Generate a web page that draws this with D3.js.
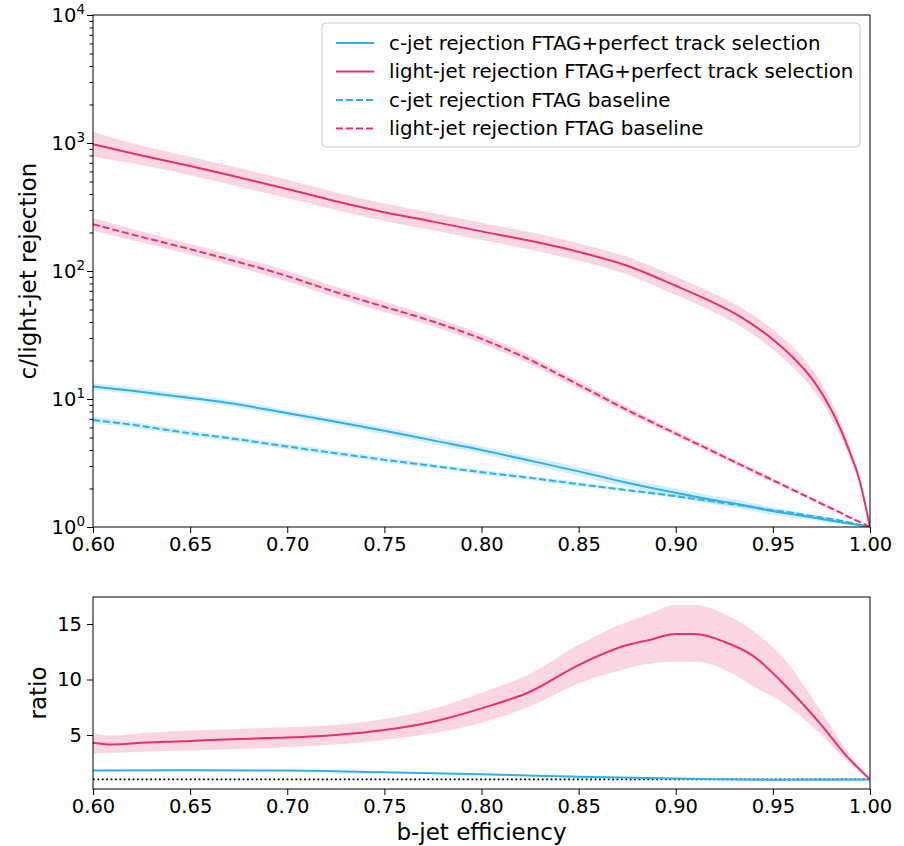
<!DOCTYPE html>
<html>
<head>
<meta charset="utf-8">
<script src="https://cdnjs.cloudflare.com/ajax/libs/d3/7.8.5/d3.min.js"></script>
<style>
  body { margin: 0; background: #fff; }
  svg { font-family: "DejaVu Sans", sans-serif; }
</style>
</head>
<body>
<svg id="chart" width="904" height="846"></svg>
<script>
// b-jet efficiency grid for the rejection curves
var eff = [0.60, 0.62, 0.65, 0.67, 0.70, 0.725, 0.75, 0.775, 0.80, 0.825, 0.85, 0.875,
           0.90, 0.917, 0.933, 0.95, 0.96, 0.97, 0.977, 0.985, 0.99, 0.994, 1.0];

// rejection values
var lightPerfect = [977, 832, 661, 562, 437, 351, 288, 243, 204, 172, 141, 110,
                    76.7, 58.9, 44.2, 29.2, 21.4, 14.5, 10, 5.75, 3.7, 2.5, 1.0];
var lightBase    = [232, 193, 148, 123, 91.2, 68.4, 52.5, 40.3, 29.5, 20.2, 12.9, 8.2,
                    5.37, 4.04, 3.08, 2.32, 1.96, 1.66, 1.47, 1.29, 1.18, 1.106, 1.0];
var cPerfect     = [12.5, 11.6, 10.2, 9.3, 7.75, 6.65, 5.65, 4.75, 4.0, 3.3, 2.72, 2.22,
                    1.85, 1.65, 1.5, 1.33, 1.26, 1.19, 1.14, 1.09, 1.06, 1.035, 1.0];
var cBase        = [6.85, 6.3, 5.4, 4.95, 4.25, 3.77, 3.35, 3.0, 2.68, 2.42, 2.16, 1.94,
                    1.74, 1.6, 1.48, 1.35, 1.29, 1.22, 1.175, 1.12, 1.08, 1.047, 1.0];

// relative half-widths of the uncertainty bands
var lightPerfectErr = [0.25, 0.2, 0.18, 0.18, 0.18, 0.17, 0.17, 0.17, 0.17, 0.17, 0.17, 0.17,
                       0.18, 0.18, 0.19, 0.2, 0.2, 0.19, 0.17, 0.14, 0.1, 0.07, 0];
var lightBaseErr    = [0.12, 0.11, 0.1, 0.1, 0.1, 0.1, 0.1, 0.09, 0.09, 0.08, 0.07, 0.06,
                       0.05, 0.05, 0.04, 0.04, 0.03, 0.03, 0.03, 0.02, 0.02, 0.01, 0];
var cPerfectErr     = [0.06, 0.06, 0.06, 0.06, 0.06, 0.06, 0.07, 0.07, 0.07, 0.08, 0.08, 0.08,
                       0.08, 0.08, 0.08, 0.07, 0.06, 0.05, 0.04, 0.03, 0.02, 0.01, 0];
var cBaseErr        = [0.06, 0.06, 0.05, 0.05, 0.05, 0.05, 0.05, 0.04, 0.04, 0.04, 0.04, 0.03,
                       0.03, 0.03, 0.03, 0.03, 0.02, 0.02, 0.02, 0.02, 0.01, 0.01, 0];

// ratio panel
var effRatio   = [0.60, 0.605, 0.61, 0.625, 0.65, 0.675, 0.70, 0.725, 0.75, 0.775, 0.80, 0.825,
                  0.85, 0.875, 0.885, 0.90, 0.91, 0.925, 0.94, 0.957, 0.975, 0.988, 1.0];
var ratioLight = [4.3, 4.2, 4.15, 4.3, 4.46, 4.65, 4.77, 5.0, 5.45, 6.2, 7.4, 8.9,
                  11.3, 13.1, 13.5, 14.1, 14.1, 13.4, 12.1, 9.35, 5.9, 3.1, 1.0];
var ratioLightLo = [3.3, 3.35, 3.4, 3.5, 3.6, 3.75, 3.9, 4.15, 4.55, 5.15, 6.1, 7.6,
                    9.65, 11.0, 11.4, 11.6, 11.6, 10.9, 9.4, 7.7, 5.0, 2.7, 1.0];
var ratioLightHi = [5.2, 5.0, 4.95, 5.15, 5.4, 5.55, 5.7, 5.9, 6.45, 7.35, 8.8, 10.5,
                    13.1, 15.2, 15.8, 16.7, 16.7, 15.9, 14.35, 11.6, 7.1, 3.6, 1.0];
var effRatioC  = [0.60, 0.65, 0.70, 0.75, 0.80, 0.85, 0.90, 0.95, 1.0];
var ratioC     = [1.8, 1.82, 1.8, 1.65, 1.47, 1.25, 1.08, 0.98, 1.0];

var xTicks = [0.60, 0.65, 0.70, 0.75, 0.80, 0.85, 0.90, 0.95, 1.00];
var yTopTicks = [1, 10, 100, 1000, 10000];
var yRatioTicks = [5, 10, 15];

var pink = '#e8306c';
var blue = '#2fb0e6';

var svg = d3.select('#chart');

// panel geometry
var left = 93, right = 870;
var topY0 = 15, topY1 = 527;
var botY0 = 597, botY1 = 789;

var x = d3.scaleLinear().domain([0.6, 1.0]).range([left, right]);
var yTop = d3.scaleLog().domain([1, 10000]).range([topY1, topY0]);
var yBot = d3.scaleLinear().domain([0.14, 17.43]).range([botY1, botY0]);

svg.append('clipPath').attr('id', 'clipTop')
    .append('rect').attr('x', left).attr('y', topY0).attr('width', right - left).attr('height', topY1 - topY0);
svg.append('clipPath').attr('id', 'clipBot')
    .append('rect').attr('x', left).attr('y', botY0).attr('width', right - left).attr('height', botY1 - botY0);

// ---------- top panel ----------
var gTop = svg.append('g').attr('clip-path', 'url(#clipTop)');

function addBand(vals, errs, color) {
    var pts = eff.map(function(e, i) { return [e, vals[i], errs[i]]; });
    var area = d3.area()
        .curve(d3.curveMonotoneX)
        .x(function(d) { return x(d[0]); })
        .y0(function(d) { return yTop(d[1] / (1 + d[2])); })
        .y1(function(d) { return yTop(d[1] * (1 + d[2])); });
    gTop.append('path').attr('d', area(pts))
        .attr('fill', color).attr('fill-opacity', 0.2).attr('stroke', 'none');
}

function addLine(vals, color, dashed) {
    var pts = eff.map(function(e, i) { return [e, vals[i]]; });
    var line = d3.line()
        .curve(d3.curveMonotoneX)
        .x(function(d) { return x(d[0]); })
        .y(function(d) { return yTop(d[1]); });
    gTop.append('path').attr('d', line(pts))
        .attr('fill', 'none').attr('stroke', color).attr('stroke-width', 2)
        .attr('stroke-dasharray', dashed ? '7,3' : null);
}

addBand(cPerfect, cPerfectErr, blue);
addBand(lightPerfect, lightPerfectErr, pink);
addBand(cBase, cBaseErr, blue);
addBand(lightBase, lightBaseErr, pink);
addLine(cPerfect, blue, false);
addLine(lightPerfect, pink, false);
addLine(cBase, blue, true);
addLine(lightBase, pink, true);

// top axes
var xAxisTop = d3.axisBottom(x).tickValues(xTicks).tickFormat(d3.format('.2f')).tickSize(6).tickPadding(4);
svg.append('g').attr('class', 'axis').attr('transform', 'translate(0,' + topY1 + ')').call(xAxisTop);

var minorTop = [];
for (var dec = 1; dec < 10000; dec *= 10) {
    for (var m = 2; m <= 9; m++) minorTop.push(dec * m);
}
var yAxisTopMinor = d3.axisLeft(yTop).tickValues(minorTop).tickSize(3.5).tickFormat('');
svg.append('g').attr('class', 'axis').attr('transform', 'translate(' + left + ',0)').call(yAxisTopMinor);
var yAxisTop = d3.axisLeft(yTop).tickValues(yTopTicks).tickSize(6).tickFormat('');
svg.append('g').attr('class', 'axis').attr('transform', 'translate(' + left + ',0)').call(yAxisTop);

// power-of-ten labels
yTopTicks.forEach(function(v) {
    var t = svg.append('text')
        .attr('x', left - 8).attr('y', yTop(v) + 7)
        .attr('text-anchor', 'end').attr('font-size', 19.5).attr('fill', '#000');
    t.append('tspan').text('10');
    t.append('tspan').attr('font-size', 13.5).attr('dy', -8).text(Math.round(Math.log10(v)));
});

svg.append('rect').attr('x', left).attr('y', topY0).attr('width', right - left).attr('height', topY1 - topY0)
    .attr('fill', 'none').attr('stroke', '#000').attr('stroke-width', 1);

svg.append('text')
    .attr('transform', 'translate(36,' + ((topY0 + topY1) / 2) + ') rotate(-90)')
    .attr('text-anchor', 'middle').attr('font-size', 23).text('c/light-jet rejection');

// legend
var legendItems = [
    { label: 'c-jet rejection FTAG+perfect track selection', color: blue, dashed: false },
    { label: 'light-jet rejection FTAG+perfect track selection', color: pink, dashed: false },
    { label: 'c-jet rejection FTAG baseline', color: blue, dashed: true },
    { label: 'light-jet rejection FTAG baseline', color: pink, dashed: true }
];
var lg = svg.append('g');
lg.append('rect').attr('x', 322).attr('y', 23).attr('width', 538).attr('height', 124)
    .attr('rx', 4).attr('fill', '#fff').attr('fill-opacity', 0.8)
    .attr('stroke', '#cccccc').attr('stroke-width', 1);
legendItems.forEach(function(d, i) {
    var yy = 43 + i * 28.5;
    lg.append('line').attr('x1', 336).attr('x2', 374).attr('y1', yy).attr('y2', yy)
        .attr('stroke', d.color).attr('stroke-width', 2)
        .attr('stroke-dasharray', d.dashed ? '7,3' : null);
    lg.append('text').attr('x', 389).attr('y', yy + 6.5).attr('font-size', 19.8).text(d.label);
});

// ---------- ratio panel ----------
var gBot = svg.append('g').attr('clip-path', 'url(#clipBot)');

var ratioPts = effRatio.map(function(e, i) { return [e, ratioLight[i], ratioLightLo[i], ratioLightHi[i]]; });
gBot.append('path')
    .attr('d', d3.area().curve(d3.curveMonotoneX)
        .x(function(d) { return x(d[0]); })
        .y0(function(d) { return yBot(d[2]); })
        .y1(function(d) { return yBot(d[3]); })(ratioPts))
    .attr('fill', pink).attr('fill-opacity', 0.2);

var ratioCPts = effRatioC.map(function(e, i) { return [e, ratioC[i]]; });
gBot.append('path')
    .attr('d', d3.area().curve(d3.curveMonotoneX)
        .x(function(d) { return x(d[0]); })
        .y0(function(d) { return yBot(d[1] - 0.06); })
        .y1(function(d) { return yBot(d[1] + 0.06); })(ratioCPts))
    .attr('fill', blue).attr('fill-opacity', 0.25);

gBot.append('line').attr('x1', left).attr('x2', right).attr('y1', yBot(1)).attr('y2', yBot(1))
    .attr('stroke', '#000').attr('stroke-width', 1.8).attr('stroke-dasharray', '1.8,2.6');

gBot.append('path')
    .attr('d', d3.line().curve(d3.curveMonotoneX)
        .x(function(d) { return x(d[0]); })
        .y(function(d) { return yBot(d[1]); })(ratioCPts))
    .attr('fill', 'none').attr('stroke', blue).attr('stroke-width', 2);

gBot.append('path')
    .attr('d', d3.line().curve(d3.curveMonotoneX)
        .x(function(d) { return x(d[0]); })
        .y(function(d) { return yBot(d[1]); })(ratioPts))
    .attr('fill', 'none').attr('stroke', pink).attr('stroke-width', 2);

var xAxisBot = d3.axisBottom(x).tickValues(xTicks).tickFormat(d3.format('.2f')).tickSize(6).tickPadding(4);
svg.append('g').attr('class', 'axis').attr('transform', 'translate(0,' + botY1 + ')').call(xAxisBot);
var yAxisBot = d3.axisLeft(yBot).tickValues(yRatioTicks).tickSize(6).tickPadding(5);
svg.append('g').attr('class', 'axis').attr('transform', 'translate(' + left + ',0)').call(yAxisBot);

svg.append('rect').attr('x', left).attr('y', botY0).attr('width', right - left).attr('height', botY1 - botY0)
    .attr('fill', 'none').attr('stroke', '#000').attr('stroke-width', 1);

svg.append('text')
    .attr('transform', 'translate(46,' + ((botY0 + botY1) / 2) + ') rotate(-90)')
    .attr('text-anchor', 'middle').attr('font-size', 23).text('ratio');

svg.append('text').attr('x', (left + right) / 2).attr('y', 840)
    .attr('text-anchor', 'middle').attr('font-size', 23).text('b-jet efficiency');

// axis styling
svg.selectAll('.axis .domain').remove();
svg.selectAll('.axis text').attr('font-size', 19.5).attr('font-family', '"DejaVu Sans", sans-serif').attr('fill', '#000');
svg.selectAll('.axis line').attr('stroke', '#000');
</script>
</body>
</html>
